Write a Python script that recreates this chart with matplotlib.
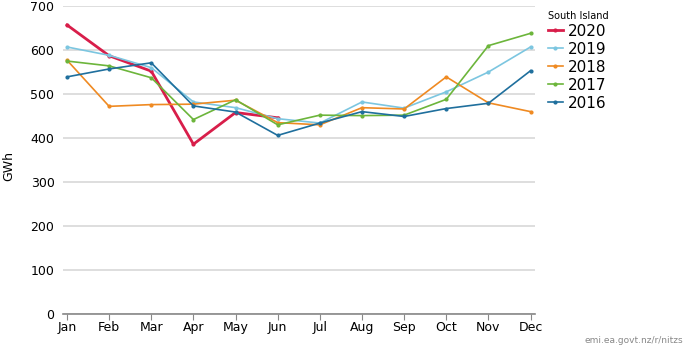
import matplotlib.pyplot as plt

months = ['Jan', 'Feb', 'Mar', 'Apr', 'May', 'Jun', 'Jul', 'Aug', 'Sep', 'Oct', 'Nov', 'Dec']
years = ['2020', '2019', '2018', '2017', '2016']

gwh_2020 = [657, 587, 552, 386, 458, 446]
gwh_2019 = [607, 588, 560, 482, 469, 444, 434, 482, 468, 505, 550, 607]
gwh_2018 = [577, 472, 476, 477, 486, 435, 430, 469, 466, 539, 480, 460]
gwh_2017 = [575, 564, 537, 442, 487, 430, 452, 451, 452, 488, 610, 638]
gwh_2016 = [539, 557, 571, 473, 459, 406, 434, 460, 449, 467, 479, 553]

series = [gwh_2020, gwh_2019, gwh_2018, gwh_2017, gwh_2016]
colors = ['#d81e4a', '#7cc6e0', '#ef8a22', '#6cb53b', '#1f6f9d']
widths = [2.0, 1.2, 1.2, 1.2, 1.2]

fig = plt.figure(figsize=(6.9, 3.46), dpi=100)
ax = fig.add_axes([0.091, 0.0925, 0.684, 0.89])

for yr, vals, c, lw in zip(years, series, colors, widths):
	ax.plot(range(len(vals)), vals, color=c, lw=lw, marker='o', ms=2,
			label=yr, zorder=3)

ax.set_xlim(-0.1, 11.1)
ax.set_ylim(0, 700)
ax.set_xticks(range(12))
ax.set_xticklabels(months, fontsize=9)
ax.set_yticks(range(0, 701, 100))
ax.tick_params(axis='y', length=0, labelsize=9, pad=6)
ax.tick_params(axis='x', length=4, color='#888888', pad=1)
ax.grid(axis='y', color='#d8d8d8', lw=1.2)
for s in ['top', 'right', 'left']:
	ax.spines[s].set_visible(False)
ax.spines['bottom'].set_color('#888888')
ax.spines['bottom'].set_linewidth(1.2)
ax.set_ylabel('GWh', fontsize=9)
ax.yaxis.set_label_coords(-0.10, 0.48)

leg = ax.legend(loc='upper left', bbox_to_anchor=(0.998, 1.03), frameon=False,
				title='South Island', title_fontsize=7, fontsize=11,
				handlelength=1.0, handletextpad=0.3, labelspacing=0.2,
				alignment='left')

fig.text(0.99, 0.01, 'emi.ea.govt.nz/r/nitzs', fontsize=6.5, color='#888888',
		 ha='right')

fig.savefig('out.png', dpi=100)
